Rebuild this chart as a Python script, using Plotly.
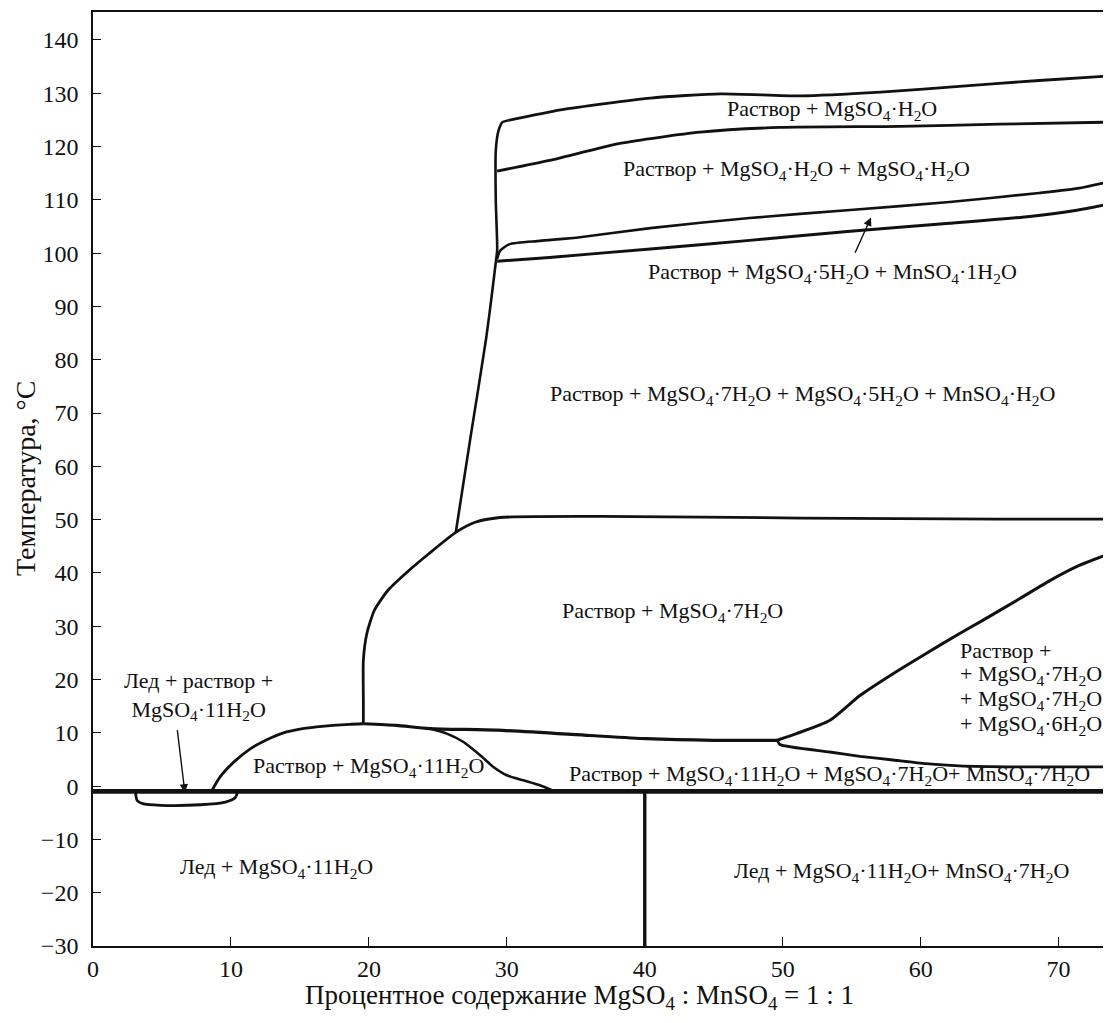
import plotly.graph_objects as go

# ---- data (x: %, y: °C) ----
zero_x = [0, 74]
zero_y = [-1.0, -1.0]

loop_x = [3.07, 3.2, 3.6, 4.9, 7.8, 9.6, 10.3, 10.5]
loop_y = [-1.0, -2.7, -3.3, -3.6, -3.5, -3.0, -2.2, -1.0]

c11_x = [8.6, 9.2, 10.2, 11.4, 12.6, 13.8, 15.0, 16.2, 17.4, 18.6, 19.6]
c11_y = [-0.9, 1.7, 4.5, 7.0, 8.7, 10.0, 10.7, 11.1, 11.4, 11.6, 11.7]

upper_x = [19.6, 22.0, 24.4, 29.3, 36.0, 40.1, 45.0, 49.6]
upper_y = [11.7, 11.4, 10.8, 10.5, 9.5, 8.9, 8.6, 8.6]

desc_x = [24.4, 25.65, 26.86, 28.07, 29.03, 30.0, 31.2, 32.4, 33.3]
desc_y = [10.8, 9.85, 8.28, 5.78, 3.58, 2.03, 1.09, 0.15, -0.8]

rise_x = [49.6, 51.0, 53.4, 55.6, 58.0, 60.4, 62.8, 64.5, 67.2, 69.4, 71.5, 74.0]
rise_y = [8.6, 9.85, 12.3, 17.0, 21.1, 24.9, 28.6, 31.1, 35.2, 38.6, 41.4, 43.9]

low_x = [49.6, 49.8, 53.4, 55.6, 58.0, 60.4, 62.8, 67.7, 74.0]
low_y = [8.6, 7.8, 6.4, 5.6, 4.9, 4.2, 3.8, 3.6, 3.6]

arc_x = [19.6, 19.6, 19.6, 19.85, 20.4, 21.4, 22.7, 24.3, 26.3, 27.7, 29.5, 36.8, 51.3, 65.7, 74.0]
arc_y = [11.7, 16.1, 23.6, 28.6, 33.0, 36.8, 40.0, 43.5, 47.6, 49.5, 50.4, 50.6, 50.3, 50.1, 50.1]

vert_x = [26.3, 27.4, 28.5, 29.2, 29.3, 29.2, 29.2, 29.4, 29.7, 30.1]
vert_y = [47.6, 66.0, 84.0, 98.3, 100.6, 109.9, 119.3, 123.0, 124.6, 124.9]

top_x = [30.1, 33.9, 40.4, 45.5, 51.3, 57.1, 62.8, 68.6, 74.0]
top_y = [124.9, 126.9, 129.1, 129.9, 129.5, 130.2, 131.3, 132.4, 133.3]

sec_x = [29.3, 33.1, 38.2, 44.0, 49.8, 58.5, 65.7, 74.0]
sec_y = [115.4, 117.4, 120.6, 122.7, 123.6, 123.8, 124.2, 124.6]

h_x = [29.3, 29.5, 30.2, 32.4, 35.3, 40.4, 47.6, 54.9, 62.1, 68.6, 71.5, 74.0]
h_y = [98.9, 100.4, 101.7, 102.3, 103.0, 104.7, 106.6, 108.1, 109.6, 111.3, 112.2, 113.6]

i_x = [29.3, 33.1, 40.4, 47.6, 54.9, 62.1, 67.9, 71.2, 74.0]
i_y = [98.5, 99.2, 100.8, 102.4, 104.1, 105.6, 106.9, 108.0, 109.4]

v40_x = [40, 40]
v40_y = [-1.0, -30]

x_ticks = [0, 10, 20, 30, 40, 50, 60, 70]
y_ticks = [-30, -20, -10, 0, 10, 20, 30, 40, 50, 60, 70, 80, 90, 100, 110, 120, 130, 140]

x_title = "Процентное содержание MgSO<sub>4</sub> : MnSO<sub>4</sub> = 1 : 1"
y_title = "Температура, °C"

# centred region labels
labels_text = [
    "Раствор + MgSO<sub>4</sub>·H<sub>2</sub>O",
    "Раствор + MgSO<sub>4</sub>·H<sub>2</sub>O + MgSO<sub>4</sub>·H<sub>2</sub>O",
    "Раствор + MgSO<sub>4</sub>·5H<sub>2</sub>O + MnSO<sub>4</sub>·1H<sub>2</sub>O",
    "Раствор + MgSO<sub>4</sub>·7H<sub>2</sub>O + MgSO<sub>4</sub>·5H<sub>2</sub>O + MnSO<sub>4</sub>·H<sub>2</sub>O",
    "Раствор + MgSO<sub>4</sub>·7H<sub>2</sub>O",
    "Раствор + MgSO<sub>4</sub>·11H<sub>2</sub>O",
    "Раствор + MgSO<sub>4</sub>·11H<sub>2</sub>O + MgSO<sub>4</sub>·7H<sub>2</sub>O+ MnSO<sub>4</sub>·7H<sub>2</sub>O",
    "Лед + MgSO<sub>4</sub>·11H<sub>2</sub>O",
    "Лед + MgSO<sub>4</sub>·11H<sub>2</sub>O+ MnSO<sub>4</sub>·7H<sub>2</sub>O",
    "Лед + раствор +<br>MgSO<sub>4</sub>·11H<sub>2</sub>O",
]
labels_x = [53.6, 51.0, 53.6, 51.4, 42.0, 20.0, 53.4, 13.3, 58.6, 7.65]
labels_y = [126.8, 115.6, 96.2, 73.3, 32.6, 3.6, 2.0, -15.4, -16.2, 17.0]

# left-aligned stacked label
multi_text = [
    "Раствор +",
    "+ MgSO<sub>4</sub>·7H<sub>2</sub>O",
    "+ MgSO<sub>4</sub>·7H<sub>2</sub>O",
    "+ MgSO<sub>4</sub>·6H<sub>2</sub>O",
]
multi_x = 62.7
multi_y = [25.5, 20.8, 16.1, 11.4]

arrows = [  # (tail_x, tail_y, head_x, head_y)
    (6.1, 10.8, 6.66, -1.2),
    (55.2, 99.8, 56.4, 106.7),
]

FONT = "Liberation Serif"
K = "#111111"

fig = go.Figure()

def line(xs, ys, w=2.8):
    fig.add_trace(go.Scatter(x=xs, y=ys, mode="lines",
                             line=dict(color=K, width=w, shape="spline", smoothing=0.6),
                             hoverinfo="skip", showlegend=False))

line(zero_x, zero_y, 4.8)
line(loop_x, loop_y, 2.8)
line(c11_x, c11_y, 2.8)
line(upper_x, upper_y, 3.2)
line(desc_x, desc_y, 2.6)
line(rise_x, rise_y, 3.0)
line(low_x, low_y, 2.8)
line(arc_x, arc_y, 2.8)
line(vert_x, vert_y, 2.6)
line(top_x, top_y, 2.8)
line(sec_x, sec_y, 2.8)
line(h_x, h_y, 2.6)
line(i_x, i_y, 3.0)
line(v40_x, v40_y, 3.4)

for t, x, y in zip(labels_text, labels_x, labels_y):
    fig.add_annotation(x=x, y=y, text=t, showarrow=False,
                       font=dict(family=FONT, size=22, color=K))
for t, y in zip(multi_text, multi_y):
    fig.add_annotation(x=multi_x, y=y, text=t, showarrow=False,
                       xanchor="left", align="left",
                       font=dict(family=FONT, size=22, color=K))

for tx, ty, hx, hy in arrows:
    fig.add_annotation(x=hx, y=hy, ax=tx, ay=ty, xref="x", yref="y",
                       axref="x", ayref="y", text="", showarrow=True,
                       arrowhead=2, arrowsize=1.2, arrowwidth=1.4, arrowcolor=K)

# axis titles (placed as in the reference)
fig.add_annotation(xref="paper", yref="paper", x=0.478, y=0, yshift=-51,
                   xanchor="center", yanchor="middle", text=x_title, showarrow=False,
                   font=dict(family=FONT, size=27, color=K))
fig.add_annotation(xref="paper", yref="paper", x=0, y=0.5, xshift=-68,
                   xanchor="center", yanchor="middle", textangle=-90, text=y_title,
                   showarrow=False, font=dict(family=FONT, size=28, color=K))

# the page body has an 8px margin, so the figure is sized/offset to compensate
fig.update_layout(
    width=1103, height=1007, autosize=False,
    margin=dict(l=85, r=0, t=4, b=69),
    paper_bgcolor="white", plot_bgcolor="white",
    font=dict(family=FONT, color=K),
    showlegend=False,
)
fig.update_xaxes(
    range=[0, 73.8], tickvals=x_ticks, ticks="inside", ticklen=9, tickwidth=1.3,
    tickcolor=K, showline=True, linecolor=K, linewidth=1.6, mirror=True,
    showgrid=False, zeroline=False, tickfont=dict(family=FONT, size=24, color=K),
    automargin=False,
)
fig.update_yaxes(
    range=[-30, 145.25], tickvals=y_ticks, ticks="inside", ticklen=8, tickwidth=1.3,
    tickcolor=K, showline=True, linecolor=K, linewidth=1.6,
    showgrid=False, zeroline=False, tickfont=dict(family=FONT, size=24, color=K),
    ticklabelstandoff=8, automargin=False,
)

fig.write_html("out.html")
